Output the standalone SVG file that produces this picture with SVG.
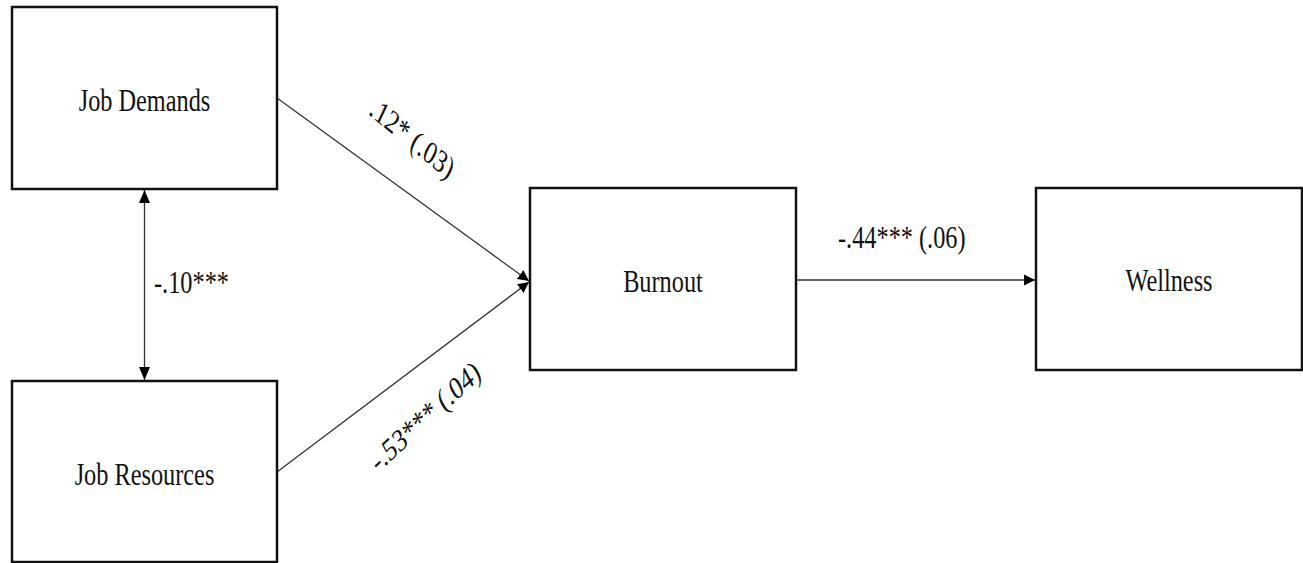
<svg xmlns="http://www.w3.org/2000/svg" width="1303" height="563" viewBox="0 0 1303 563">
<style>
.box{fill:#fff;stroke:#111;stroke-width:2.5}
.edge{stroke:#333;stroke-width:1.3;fill:none}
</style>
<defs>
<marker id="ah" markerUnits="userSpaceOnUse" markerWidth="12" markerHeight="12" refX="11" refY="6" orient="auto">
<path d="M0,0.5 L11,6 L0,11.5 z" fill="#000"/>
</marker>
<marker id="ahs" markerUnits="userSpaceOnUse" markerWidth="14" markerHeight="12" refX="13" refY="6" orient="auto-start-reverse">
<path d="M0,0.5 L13,6 L0,11.5 z" fill="#000"/>
</marker>
</defs>
<rect width="1303" height="563" fill="#fff"/>
<g id="connectors">
<line class="edge" x1="277" y1="98" x2="529" y2="281" marker-end="url(#ah)"/>
<line class="edge" x1="277" y1="472" x2="529" y2="282" marker-end="url(#ah)"/>
<line class="edge" x1="796" y1="280" x2="1035" y2="280" marker-end="url(#ah)"/>
<line class="edge" x1="144.5" y1="190" x2="144.5" y2="380" marker-start="url(#ahs)" marker-end="url(#ahs)"/>
<g font-family="Liberation Serif" font-size="32" fill="#111">
<text transform="translate(154,293) scale(0.76,1)">-.10***</text>
<text transform="translate(838,248) scale(0.76,1)">-.44*** (.06)</text>
<text text-anchor="middle" transform="translate(408,147) scale(0.76,1) rotate(32)">.12* (.03)</text>
<text text-anchor="middle" transform="translate(430,425) scale(0.76,1) rotate(-35)">-.53*** (.04)</text>
</g>
</g>
<g id="job-demands">
<rect class="box" x="12" y="7" width="265" height="182"/>
<text font-family="Liberation Serif" font-size="32" fill="#111" text-anchor="middle" transform="translate(144.5,111) scale(0.76,1)">Job Demands</text>
</g>
<g id="job-resources">
<rect class="box" x="12" y="381" width="265" height="181"/>
<text font-family="Liberation Serif" font-size="32" fill="#111" text-anchor="middle" transform="translate(144.5,485) scale(0.76,1)">Job Resources</text>
</g>
<g id="burnout">
<rect class="box" x="530" y="188" width="266" height="182"/>
<text font-family="Liberation Serif" font-size="32" fill="#111" text-anchor="middle" transform="translate(663,292) scale(0.76,1)">Burnout</text>
</g>
<g id="wellness">
<rect class="box" x="1036" y="188" width="266" height="182"/>
<text font-family="Liberation Serif" font-size="32" fill="#111" text-anchor="middle" transform="translate(1169,291) scale(0.76,1)">Wellness</text>
</g>
</svg>
